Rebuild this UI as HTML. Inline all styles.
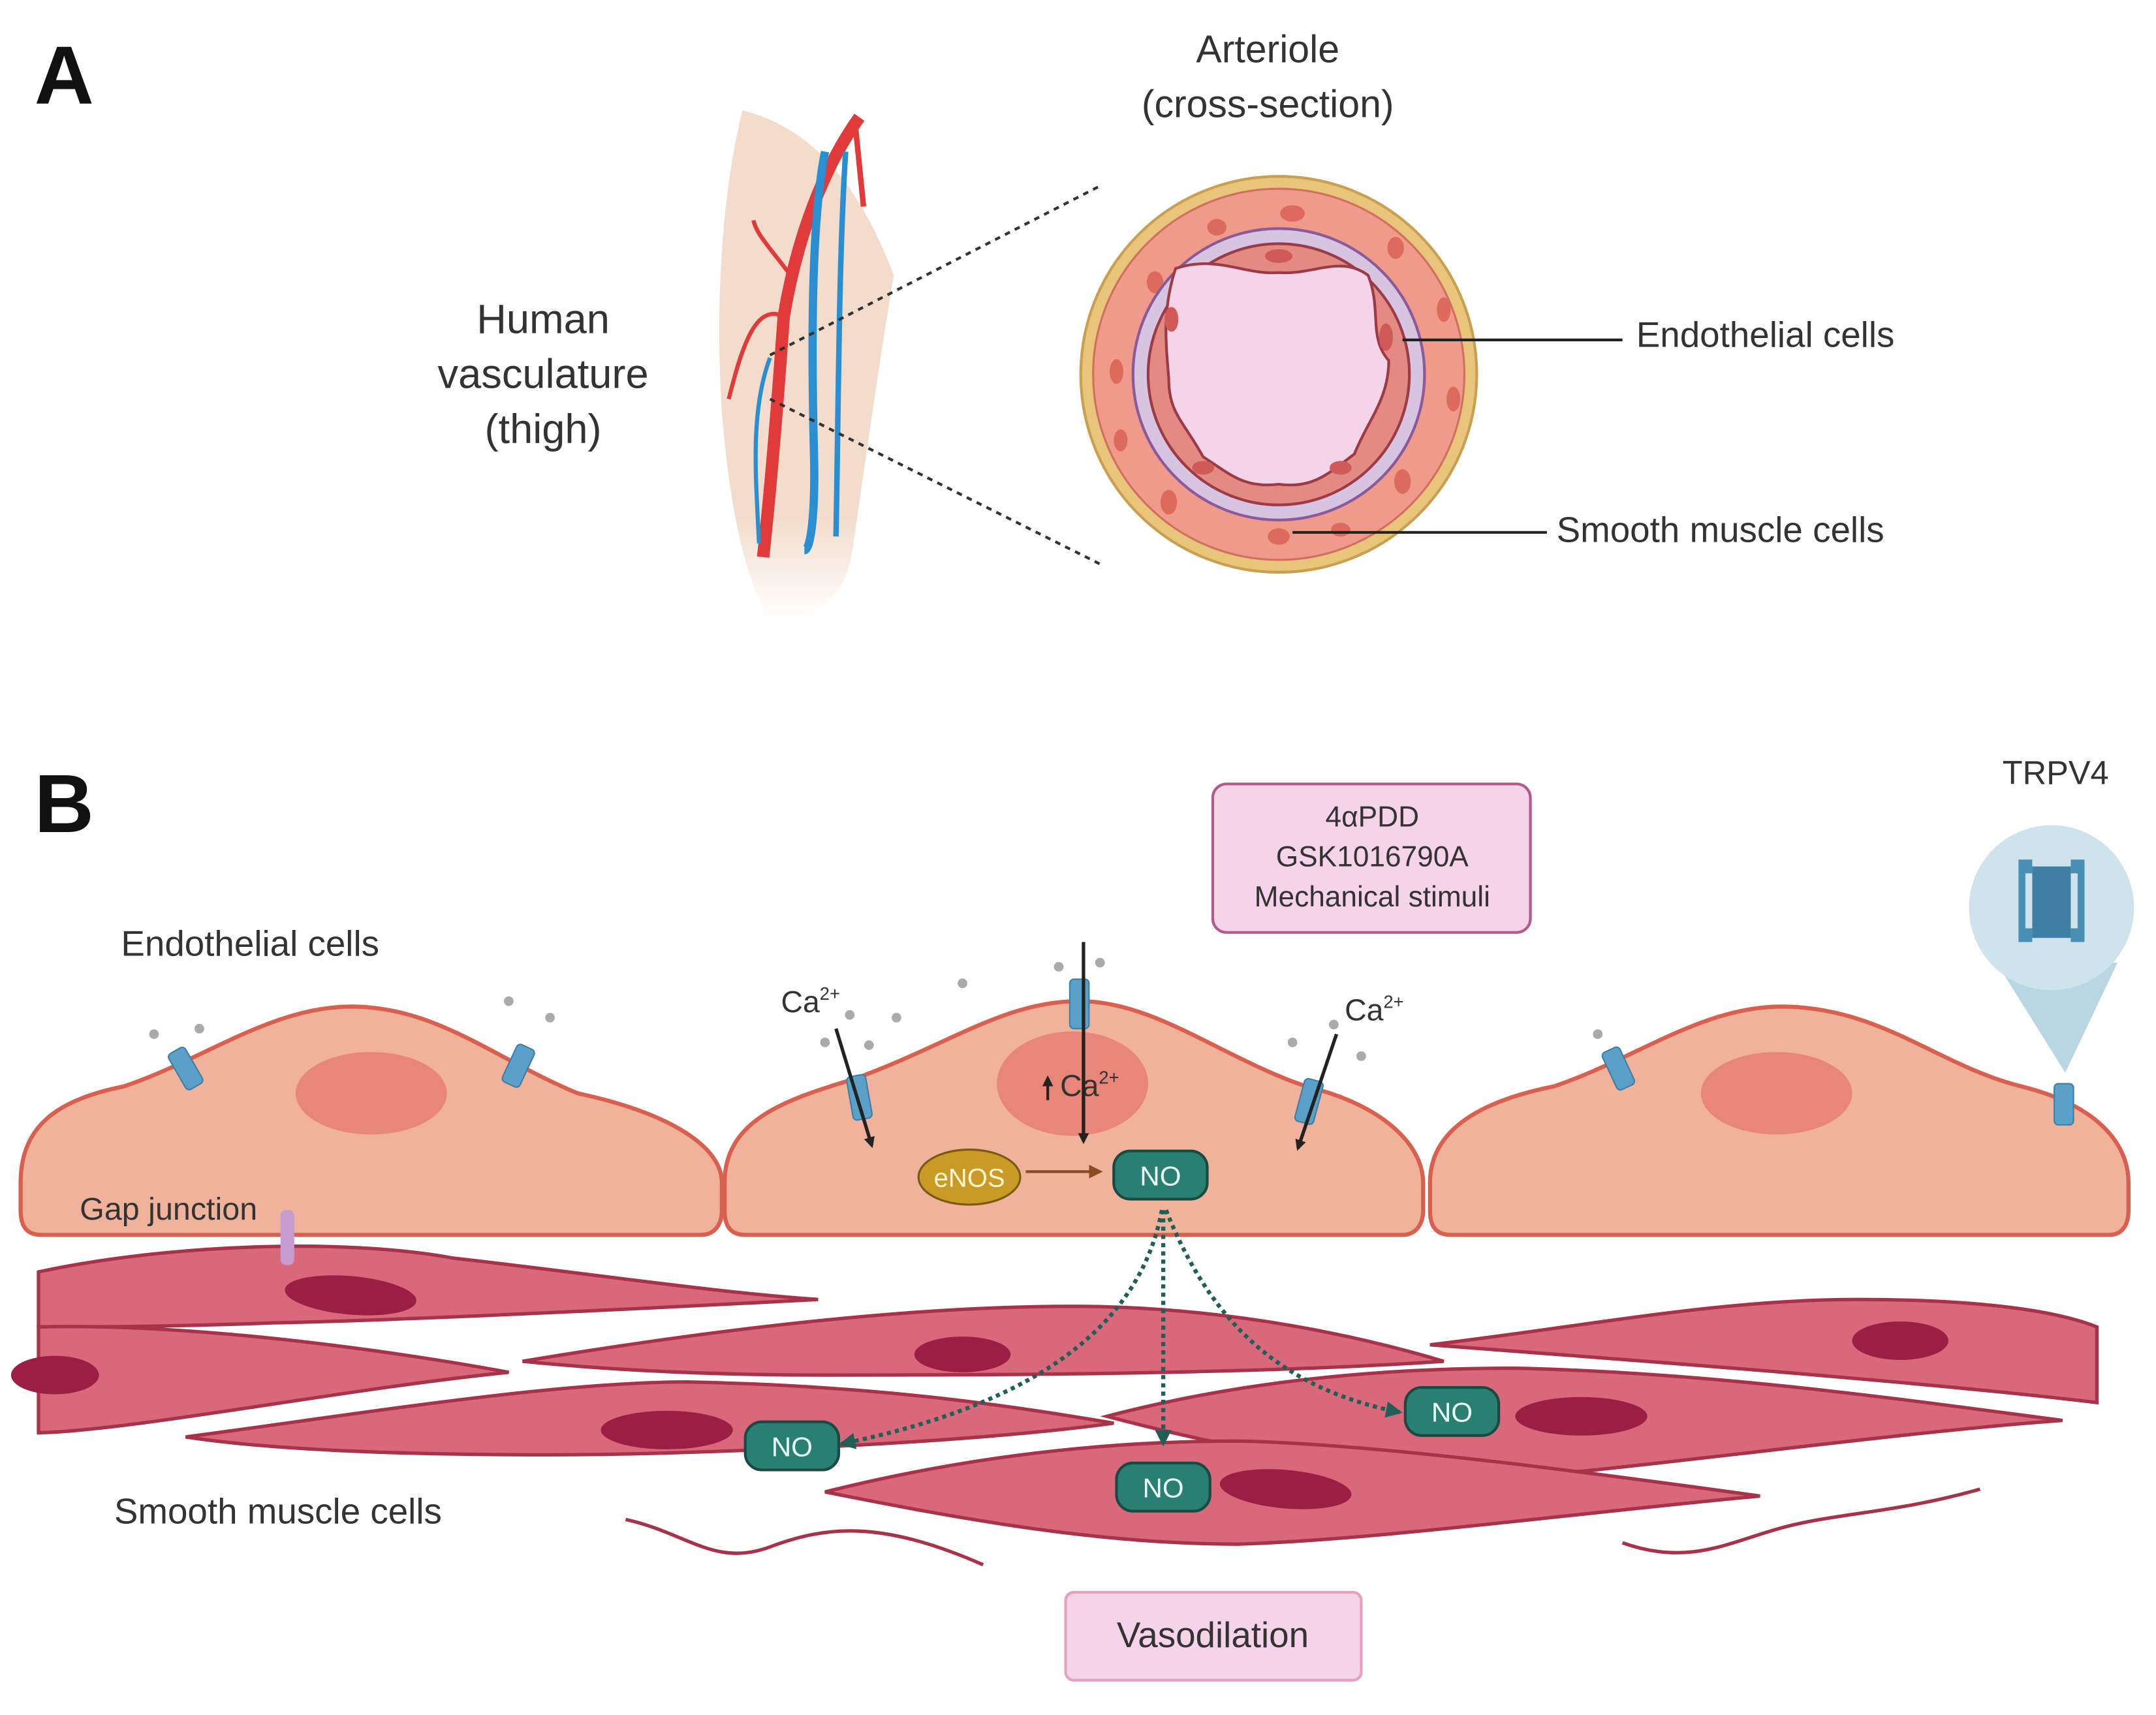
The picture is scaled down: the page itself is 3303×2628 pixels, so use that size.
<!DOCTYPE html>
<html><head><meta charset="utf-8"><style>
html,body{margin:0;padding:0;background:#fff}
svg{display:block}
text{font-family:"Liberation Sans",sans-serif;fill:#333}
</style></head><body>
<svg width="3303" height="2628" viewBox="0 0 1568 1247" xmlns="http://www.w3.org/2000/svg">
<defs>
<marker id="ah" markerWidth="8" markerHeight="8" refX="6" refY="4" orient="auto" markerUnits="userSpaceOnUse"><path d="M0,0 L8,4 L0,8 Z" fill="#222"/></marker>
<marker id="at" markerWidth="14" markerHeight="14" refX="10" refY="7" orient="auto" markerUnits="userSpaceOnUse"><path d="M0,1 L12,7 L0,13 Z" fill="#1f5f58"/></marker>
<marker id="ab" markerWidth="10" markerHeight="10" refX="8" refY="5" orient="auto" markerUnits="userSpaceOnUse"><path d="M0,0 L10,5 L0,10 Z" fill="#8a4a22"/></marker>
<linearGradient id="leg" x1="0" y1="0" x2="0" y2="1"><stop offset="0" stop-color="#f3dccb"/><stop offset="0.8" stop-color="#f3dccb"/><stop offset="1" stop-color="#fff"/></linearGradient>
</defs>
<!-- Panel A -->
<text x="25" y="75" font-size="60" font-weight="bold" style="fill:#111">A</text>
<text x="395" y="242" font-size="30" text-anchor="middle">Human</text>
<text x="395" y="282" font-size="30" text-anchor="middle">vasculature</text>
<text x="395" y="322" font-size="30" text-anchor="middle">(thigh)</text>
<path d="M540,80 C580,90 620,120 650,200 C640,260 630,330 620,400 C615,430 600,450 560,450 C540,420 530,360 525,300 C520,220 525,140 540,80 Z" fill="url(#leg)"/>
<path d="M625,85 C600,120 580,170 570,230 C565,300 560,360 555,405" stroke="#e03a3a" stroke-width="9" fill="none"/>
<path d="M600,110 C590,160 590,250 592,330 C593,370 590,400 585,400" stroke="#2a8fd0" stroke-width="6" fill="none"/>
<path d="M615,110 C610,190 610,280 608,390" stroke="#2a8fd0" stroke-width="4" fill="none"/>
<path d="M570,230 C550,220 540,250 530,290" stroke="#e03a3a" stroke-width="3" fill="none"/>
<path d="M575,200 C560,180 550,170 548,160" stroke="#e03a3a" stroke-width="3" fill="none"/>
<path d="M622,90 L628,150" stroke="#e03a3a" stroke-width="4" fill="none"/>
<path d="M560,260 C545,300 550,350 552,395" stroke="#2a8fd0" stroke-width="3" fill="none"/>
<line x1="560" y1="258" x2="800" y2="135" stroke="#333" stroke-width="2" stroke-dasharray="4,4"/>
<line x1="560" y1="290" x2="800" y2="410" stroke="#333" stroke-width="2" stroke-dasharray="4,4"/>
<text x="922" y="45" font-size="28" text-anchor="middle">Arteriole</text>
<text x="922" y="85" font-size="28" text-anchor="middle">(cross-section)</text>
<ellipse cx="930" cy="272" rx="144" ry="144" fill="#e8c57a" stroke="#c9a050" stroke-width="2"/>
<ellipse cx="930" cy="272" rx="135" ry="135" fill="#ef9a8a" stroke="#d07060" stroke-width="1.5"/>
<g fill="#dc6b5e">
<ellipse cx="940" cy="155" rx="9" ry="6"/><ellipse cx="885" cy="165" rx="7" ry="6"/><ellipse cx="1015" cy="180" rx="6" ry="8"/><ellipse cx="840" cy="205" rx="6" ry="8"/><ellipse cx="1050" cy="225" rx="5" ry="9"/><ellipse cx="812" cy="270" rx="5" ry="9"/><ellipse cx="1057" cy="290" rx="5" ry="9"/><ellipse cx="815" cy="320" rx="5" ry="8"/><ellipse cx="1020" cy="350" rx="6" ry="9"/><ellipse cx="850" cy="365" rx="6" ry="9"/><ellipse cx="930" cy="390" rx="8" ry="6"/><ellipse cx="975" cy="385" rx="7" ry="5"/>
</g>
<circle cx="930" cy="272" r="106" fill="#d7c4e0" stroke="#8a5a9a" stroke-width="2"/>
<circle cx="930" cy="272" r="95" fill="#e38a82" stroke="#9c3a45" stroke-width="2"/>
<path d="M855,195 C885,185 905,200 930,198 C955,200 975,185 995,200 C1005,225 995,245 1010,262 C1010,290 995,305 985,330 C965,345 955,355 930,352 C905,355 895,345 875,332 C860,305 850,300 850,275 C848,250 845,225 855,195 Z" fill="#f5d3e8" stroke="#9c3a45" stroke-width="2"/>
<g fill="#d05a58"><ellipse cx="930" cy="186" rx="10" ry="5"/><ellipse cx="1008" cy="245" rx="5" ry="10"/><ellipse cx="852" cy="232" rx="5" ry="9"/><ellipse cx="875" cy="340" rx="8" ry="5"/><ellipse cx="975" cy="340" rx="8" ry="5"/></g>
<line x1="1020" y1="247" x2="1180" y2="247" stroke="#222" stroke-width="2"/>
<text x="1190" y="252" font-size="26">Endothelial cells</text>
<line x1="940" y1="387" x2="1125" y2="387" stroke="#222" stroke-width="2"/>
<text x="1132" y="394" font-size="26">Smooth muscle cells</text>

<!-- Panel B -->
<text x="25" y="605" font-size="60" font-weight="bold" style="fill:#111">B</text>
<rect x="882" y="570" width="231" height="108" rx="10" fill="#f5d3e8" stroke="#b35a8c" stroke-width="2"/>
<text x="998" y="601" font-size="21" text-anchor="middle">4αPDD</text>
<text x="998" y="630" font-size="21" text-anchor="middle">GSK1016790A</text>
<text x="998" y="659" font-size="21" text-anchor="middle">Mechanical stimuli</text>
<text x="1495" y="570" font-size="24" text-anchor="middle">TRPV4</text>
<path d="M1452,700 L1502,780 L1540,700 Z" fill="#b9d6e3"/>
<circle cx="1492" cy="660" r="60" fill="#cfe3ec"/>
<path d="M1468,625 h10 v10 h-5 v40 h5 v10 h-10 Z M1516,625 h-10 v10 h5 v40 h-5 v10 h10 Z" fill="#4a90b5"/>
<rect x="1478" y="630" width="28" height="52" fill="#3f7fa3"/>
<text x="88" y="695" font-size="26">Endothelial cells</text>

<!-- smooth muscle cells -->
<g fill="#d9687a" stroke="#a8324a" stroke-width="2.5">
<path d="M28,925 C120,905 250,900 330,915 C420,925 520,940 595,945 C500,950 300,960 200,962 C120,965 60,965 28,965 Z"/>
<path d="M28,965 C150,962 300,985 370,998 C250,1010 100,1040 28,1042 Z"/>
<path d="M380,990 C500,970 650,950 780,950 C900,950 1000,975 1050,990 C900,1000 700,1000 600,1000 C500,1000 430,995 380,990 Z"/>
<path d="M1040,978 C1150,965 1250,945 1350,945 C1450,945 1500,955 1525,965 L1525,1020 C1400,1005 1200,990 1040,978 Z"/>
<path d="M135,1045 C250,1030 400,1005 500,1005 C650,1008 750,1025 810,1035 C700,1050 500,1058 400,1058 C300,1058 200,1055 135,1045 Z"/>
<path d="M805,1030 C900,1005 1000,995 1100,995 C1250,998 1400,1020 1500,1033 C1400,1040 1250,1060 1150,1070 C1000,1075 900,1055 805,1030 Z"/>
<path d="M600,1085 C700,1060 800,1048 900,1048 C1000,1050 1150,1070 1280,1088 C1150,1100 1000,1120 900,1123 C800,1123 700,1105 600,1085 Z"/>
</g>
<g fill="#9c1e45">
<ellipse cx="255" cy="942" rx="48" ry="14" transform="rotate(5 255 942)"/>
<ellipse cx="40" cy="1000" rx="32" ry="14"/>
<ellipse cx="700" cy="985" rx="35" ry="13"/>
<ellipse cx="1382" cy="975" rx="35" ry="14"/>
<ellipse cx="485" cy="1040" rx="48" ry="14"/>
<ellipse cx="1150" cy="1030" rx="48" ry="14"/>
<ellipse cx="935" cy="1083" rx="48" ry="14" transform="rotate(5 935 1083)"/>
</g>
<path d="M455,1105 C500,1115 520,1140 560,1125 C600,1110 640,1105 715,1138" stroke="#a8324a" stroke-width="2.5" fill="none"/>
<path d="M1180,1122 C1230,1140 1260,1120 1300,1110 C1340,1100 1380,1100 1440,1083" stroke="#a8324a" stroke-width="2.5" fill="none"/>
<text x="83" y="1108" font-size="26">Smooth muscle cells</text>

<!-- endothelial cells -->
<g fill="#f0b29a" stroke="#d9604f" stroke-width="3">
<path d="M30,898 C18,898 15,890 15,880 L15,860 C15,820 40,800 90,790 C150,770 200,730 260,732 C320,734 360,770 420,795 C490,810 525,835 525,860 L525,880 C525,890 520,898 510,898 Z"/>
<path d="M542,898 C530,898 527,890 527,880 L527,860 C527,815 570,800 620,785 C690,760 730,728 785,728 C840,728 890,770 950,790 C1010,805 1035,835 1035,860 L1035,880 C1035,890 1030,898 1020,898 Z"/>
<path d="M1055,898 C1043,898 1040,890 1040,880 L1040,860 C1040,820 1080,800 1130,790 C1190,770 1240,730 1300,732 C1370,734 1410,775 1470,790 C1530,805 1548,835 1548,860 L1548,880 C1548,890 1544,898 1534,898 Z"/>
</g>
<ellipse cx="270" cy="795" rx="55" ry="30" fill="#e8867a"/>
<ellipse cx="780" cy="788" rx="55" ry="38" fill="#e8867a"/>
<ellipse cx="1292" cy="795" rx="55" ry="30" fill="#e8867a"/>
<g fill="#5aa0c8" stroke="#3f7fa3" stroke-width="1">
<rect x="128" y="762" width="14" height="30" rx="3" transform="rotate(-30 135 777)"/>
<rect x="370" y="760" width="14" height="30" rx="3" transform="rotate(25 377 775)"/>
<rect x="618" y="782" width="14" height="32" rx="3" transform="rotate(-10 625 798)"/>
<rect x="778" y="712" width="14" height="36" rx="3"/>
<rect x="945" y="785" width="14" height="32" rx="3" transform="rotate(15 952 801)"/>
<rect x="1170" y="762" width="14" height="30" rx="3" transform="rotate(-25 1177 777)"/>
<rect x="1494" y="788" width="14" height="30" rx="3"/>
</g>
<rect x="204" y="880" width="10" height="40" rx="4" fill="#c79ad0"/>
<text x="58" y="887" font-size="23">Gap junction</text>
<g fill="#aaa">
<circle cx="112" cy="752" r="3.5"/><circle cx="145" cy="748" r="3.5"/><circle cx="370" cy="728" r="3.5"/><circle cx="400" cy="740" r="3.5"/>
<circle cx="600" cy="758" r="3.5"/><circle cx="632" cy="760" r="3.5"/><circle cx="618" cy="738" r="3.5"/><circle cx="652" cy="740" r="3.5"/><circle cx="700" cy="715" r="3.5"/>
<circle cx="770" cy="703" r="3.5"/><circle cx="800" cy="700" r="3.5"/>
<circle cx="940" cy="758" r="3.5"/><circle cx="970" cy="745" r="3.5"/><circle cx="990" cy="768" r="3.5"/><circle cx="1162" cy="752" r="3.5"/>
</g>
<text x="568" y="736" font-size="22">Ca<tspan font-size="13" dy="-9">2+</tspan></text>
<text x="978" y="742" font-size="22">Ca<tspan font-size="13" dy="-9">2+</tspan></text>
<text x="771" y="797" font-size="22">Ca<tspan font-size="13" dy="-9">2+</tspan></text>
<line x1="762" y1="800" x2="762" y2="784" stroke="#222" stroke-width="2" marker-end="url(#ah)"/>
<g stroke="#222" stroke-width="2.5">
<line x1="608" y1="748" x2="634" y2="833" marker-end="url(#ah)"/>
<line x1="788" y1="685" x2="788" y2="830" marker-end="url(#ah)"/>
<line x1="972" y1="752" x2="944" y2="835" marker-end="url(#ah)"/>
</g>
<ellipse cx="705" cy="856" rx="37" ry="20" fill="#c99a26" stroke="#7a5a10" stroke-width="1.5"/>
<text x="705" y="863" font-size="19" text-anchor="middle" style="fill:#fff6d0">eNOS</text>
<line x1="746" y1="852" x2="800" y2="852" stroke="#8a4a22" stroke-width="2" marker-end="url(#ab)"/>
<g fill="#2a7f73" stroke="#1a4a44" stroke-width="2">
<rect x="810" y="837" width="68" height="35" rx="12"/>
<rect x="542" y="1034" width="68" height="35" rx="12"/>
<rect x="1022" y="1009" width="68" height="35" rx="12"/>
<rect x="812" y="1064" width="68" height="35" rx="12"/>
</g>
<g font-size="20" text-anchor="middle">
<text x="844" y="862" style="fill:#e8fffa">NO</text>
<text x="576" y="1059" style="fill:#e8fffa">NO</text>
<text x="1056" y="1034" style="fill:#e8fffa">NO</text>
<text x="846" y="1089" style="fill:#e8fffa">NO</text>
</g>
<g stroke="#1f5f58" stroke-width="3" stroke-dasharray="3,3" fill="none" marker-end="url(#at)">
<path d="M845,880 C830,960 760,1020 612,1050"/>
<path d="M846,880 L846,1050"/>
<path d="M848,880 C880,960 930,1010 1018,1027"/>
</g>
<rect x="775" y="1158" width="215" height="64" rx="6" fill="#f5d3e8" stroke="#e8a0c0" stroke-width="2"/>
<text x="882" y="1198" font-size="26" text-anchor="middle">Vasodilation</text>
</svg>
</body></html>
